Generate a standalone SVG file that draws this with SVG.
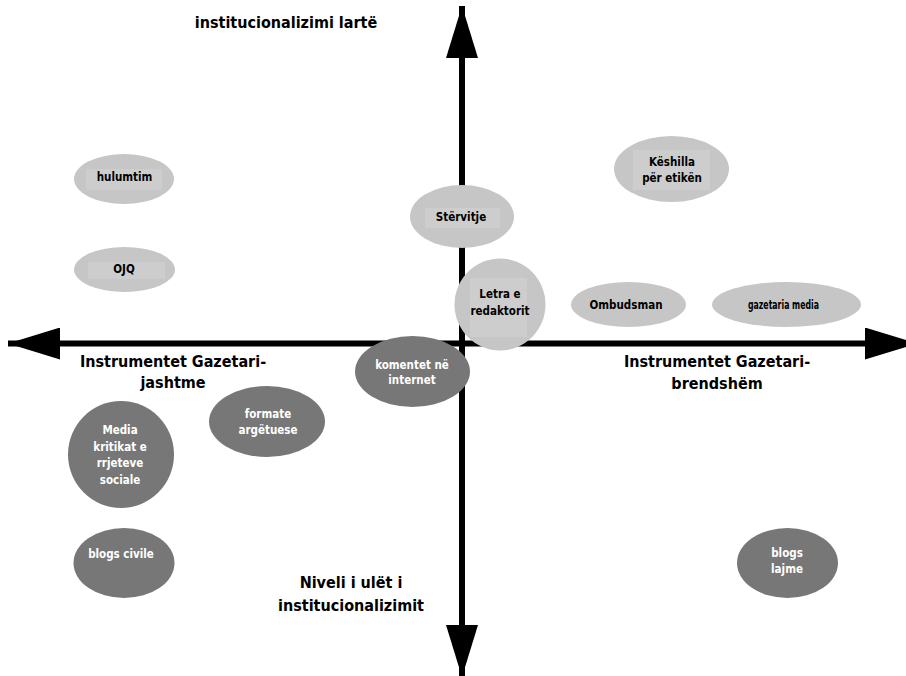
<svg xmlns="http://www.w3.org/2000/svg" width="906" height="676" viewBox="0 0 906 676">
<style>
  text { font-family: 'DejaVu Sans Condensed', 'DejaVu Sans', sans-serif; font-weight: bold; text-anchor: middle; }
  .big { font-size: 16px; fill: #000; }
  .lbl { font-size: 11.5px; fill: #000; }
  .wlbl { font-size: 11.5px; fill: #fff; }
  .light { fill: #c6c6c6; }
  .hl { fill: #cdcdcd; }
  .dark { fill: #777777; }
  .axis { stroke: #000; stroke-width: 6; fill: none; marker-start: url(#ah); marker-end: url(#ah); }
</style>
<defs>
  <marker id="ah" markerUnits="userSpaceOnUse" markerWidth="52" markerHeight="32" refX="52" refY="16" orient="auto-start-reverse" viewBox="0 0 52 32">
    <path d="M0,0 L52,16 L0,32 Z" fill="#000"/>
  </marker>
</defs>
<rect width="906" height="676" fill="#fff"/>

<g id="connectors">
  <line class="axis" x1="462" y1="677" x2="462" y2="6"/>
  <line class="axis" x1="917" y1="343.5" x2="8" y2="343.5"/>
</g>

<g id="axis-labels">
  <text class="big" x="286" y="28">institucionalizimi lartë</text>
  <text class="big" x="173" y="367">Instrumentet Gazetari-</text>
  <text class="big" x="173" y="388">jashtme</text>
  <text class="big" x="717" y="367">Instrumentet Gazetari-</text>
  <text class="big" x="717" y="389">brendshëm</text>
  <text class="big" x="351" y="588">Niveli i ulët i</text>
  <text class="big" x="351" y="611">institucionalizimit</text>
</g>

<g id="hulumtim">
  <ellipse class="light" cx="124" cy="179" rx="50" ry="25"/>
  <rect class="hl" x="86" y="169" width="76" height="21"/>
  <text class="lbl" x="124.5" y="181">hulumtim</text>
</g>

<g id="ojq">
  <ellipse class="light" cx="124.5" cy="269.5" rx="50.5" ry="22.5"/>
  <rect class="hl" x="88" y="262" width="77" height="17"/>
  <text class="lbl" x="124" y="273">OJQ</text>
</g>

<g id="stervitje">
  <ellipse class="light" cx="462" cy="216.5" rx="52" ry="31.5"/>
  <rect class="hl" x="425" y="208" width="75" height="20"/>
  <text class="lbl" x="461" y="221">Stërvitje</text>
</g>

<g id="keshilla">
  <ellipse class="light" cx="671.5" cy="169" rx="57.5" ry="33"/>
  <rect class="hl" x="633" y="150" width="77" height="40"/>
  <text class="lbl" x="672" y="166">Këshilla</text>
  <text class="lbl" x="672" y="182">për etikën</text>
</g>

<g id="letra">
  <ellipse class="light" cx="500" cy="304.5" rx="45.5" ry="46"/>
  <rect class="hl" x="470" y="278" width="57" height="59"/>
  <text class="lbl" x="500" y="298">Letra e</text>
  <text class="lbl" x="500" y="315">redaktorit</text>
</g>

<g id="ombudsman">
  <ellipse class="light" cx="628.5" cy="304.5" rx="57.5" ry="22.5"/>
  <text class="lbl" x="626" y="309">Ombudsman</text>
</g>

<g id="gazetaria">
  <ellipse class="light" cx="786.5" cy="304.5" rx="74.5" ry="22.5"/>
  <text class="lbl" x="783.5" y="309" font-size="10" textLength="71" lengthAdjust="spacingAndGlyphs">gazetaria media</text>
</g>

<g id="komentet">
  <ellipse class="dark" cx="412.5" cy="371.5" rx="57.5" ry="35.5"/>
  <text class="wlbl" x="412" y="369">komentet në</text>
  <text class="wlbl" x="412" y="384">internet</text>
</g>

<g id="formate">
  <ellipse class="dark" cx="267" cy="421.5" rx="58" ry="35.5"/>
  <text class="wlbl" x="268" y="418">formate</text>
  <text class="wlbl" x="268" y="434">argëtuese</text>
</g>

<g id="media-kritikat">
  <ellipse class="dark" cx="121" cy="454.5" rx="53" ry="53.5"/>
  <text class="wlbl" x="120" y="434">Media</text>
  <text class="wlbl" x="120" y="451">kritikat e</text>
  <text class="wlbl" x="120" y="467">rrjeteve</text>
  <text class="wlbl" x="120" y="484">sociale</text>
</g>

<g id="blogs-civile">
  <ellipse class="dark" cx="124" cy="563" rx="50.5" ry="35"/>
  <text class="wlbl" x="121" y="558">blogs civile</text>
</g>

<g id="blogs-lajme">
  <ellipse class="dark" cx="787.5" cy="563" rx="50.5" ry="35"/>
  <text class="wlbl" x="787" y="557">blogs</text>
  <text class="wlbl" x="787" y="573">lajme</text>
</g>
</svg>
